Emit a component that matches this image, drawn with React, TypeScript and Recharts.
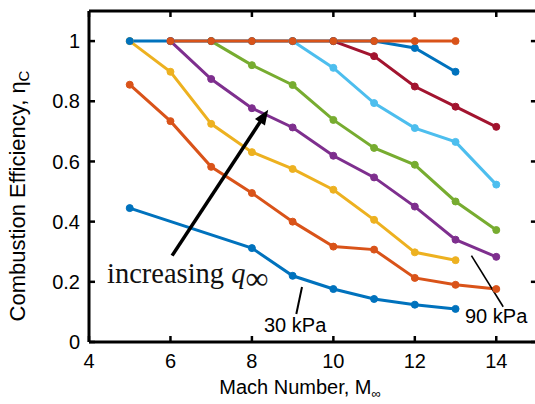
import React from 'react';
import { LineChart, Line, XAxis, YAxis, ReferenceLine } from 'recharts';

// MATLAB default colour order
const colors = ['#0072BD', '#D95319', '#EDB120', '#7E2F8E', '#77AC30', '#4DBEEE', '#A2142F', '#0072BD', '#D95319'];

const xTicks = [4, 6, 8, 10, 12, 14];
const yTicks = [0, 0.2, 0.4, 0.6, 0.8, 1];

// Mach numbers and combustion efficiency for each dynamic pressure
const mach1 = [5, 8, 9, 10, 11, 12, 13];
const eta1 = [0.445, 0.312, 0.22, 0.176, 0.143, 0.124, 0.11];
const mach2 = [5, 6, 7, 8, 9, 10, 11, 12, 13, 14];
const eta2 = [0.855, 0.734, 0.582, 0.495, 0.4, 0.317, 0.307, 0.213, 0.19, 0.176];
const mach3 = [5, 6, 7, 8, 9, 10, 11, 12, 13];
const eta3 = [1.0, 0.898, 0.725, 0.631, 0.575, 0.506, 0.406, 0.298, 0.272];
const mach4 = [6, 7, 8, 9, 10, 11, 12, 13, 14];
const eta4 = [1.0, 0.874, 0.777, 0.713, 0.619, 0.547, 0.45, 0.34, 0.283];
const mach5 = [7, 8, 9, 10, 11, 12, 13, 14];
const eta5 = [1.0, 0.92, 0.854, 0.738, 0.645, 0.589, 0.467, 0.372];
const mach6 = [9, 10, 11, 12, 13, 14];
const eta6 = [1.0, 0.911, 0.794, 0.711, 0.665, 0.523];
const mach7 = [10, 11, 12, 13, 14];
const eta7 = [1.0, 0.95, 0.849, 0.782, 0.715];
const mach8 = [5, 6, 7, 8, 9, 10, 11, 12, 13];
const eta8 = [1, 1, 1, 1, 1, 1, 1, 0.977, 0.898];
const mach9 = [6, 7, 8, 9, 10, 11, 12, 13];
const eta9 = [1, 1, 1, 1, 1, 1, 1, 1];

const seriesList = [
  [mach1, eta1], [mach2, eta2], [mach3, eta3], [mach4, eta4], [mach5, eta5],
  [mach6, eta6], [mach7, eta7], [mach8, eta8], [mach9, eta9],
].map(([m, e]) => m.map((x, i) => ({ mach: x, eta: e[i] })));

const sans = 'Liberation Sans, Arial, Helvetica, sans-serif';
const serif = 'Liberation Serif, Times New Roman, serif';

const ArrowShape = (props: any) => {
  const { x1, y1, x2, y2 } = props;
  const dx = x2 - x1;
  const dy = y2 - y1;
  const len = Math.sqrt(dx * dx + dy * dy);
  const ux = dx / len;
  const uy = dy / len;
  const hl = 15;
  const hw = 6;
  const bx = x2 - ux * hl;
  const by = y2 - uy * hl;
  return (
    <g>
      <line x1={x1} y1={y1} x2={bx + ux * 2} y2={by + uy * 2} stroke="#000" strokeWidth={3.5} />
      <polygon
        points={`${x2},${y2} ${bx - uy * hw},${by + ux * hw} ${bx + uy * hw},${by - ux * hw}`}
        fill="#000"
      />
    </g>
  );
};

export default function App() {
  return (
    <div style={{ position: 'absolute', left: 0, top: 0, width: 535, height: 404, overflow: 'hidden', background: '#fff' }}>
      <LineChart width={538} height={404} margin={{ top: 11, right: 1, left: 0, bottom: 0 }}>
        <XAxis
          dataKey="mach"
          type="number"
          domain={[4, 15]}
          ticks={xTicks}
          allowDataOverflow
          height={62}
          axisLine={{ stroke: '#000', strokeWidth: 3 }}
          tickLine={{ stroke: '#000', strokeWidth: 2.5 }}
          tickSize={-6}
          tickMargin={18}
          tick={{ fill: '#000', fontSize: 20, fontFamily: sans }}
        />
        <YAxis
          type="number"
          domain={[0, 1.1]}
          ticks={yTicks}
          allowDataOverflow
          width={89}
          axisLine={{ stroke: '#000', strokeWidth: 3 }}
          tickLine={{ stroke: '#000', strokeWidth: 2.5 }}
          tickSize={-6}
          tickMargin={15}
          tick={{ fill: '#000', fontSize: 20, fontFamily: sans }}
        />
        {/* box: top and right edges with inward ticks */}
        <ReferenceLine y={1.1} stroke="#000" strokeWidth={3} ifOverflow="visible" />
        <ReferenceLine x={15} stroke="#000" strokeWidth={3} ifOverflow="visible" />
        {xTicks.map((t) => (
          <ReferenceLine key={'tx' + t} segment={[{ x: t, y: 1.1 }, { x: t, y: 1.08 }]} stroke="#000" strokeWidth={2.5} ifOverflow="visible" />
        ))}
        {yTicks.map((t) => (
          <ReferenceLine key={'ty' + t} segment={[{ x: 15, y: t }, { x: 14.85, y: t }]} stroke="#000" strokeWidth={2.5} ifOverflow="visible" />
        ))}
        {seriesList.map((d, i) => (
          <Line
            key={i}
            data={d}
            dataKey="eta"
            type="linear"
            stroke={colors[i]}
            strokeWidth={3}
            dot={{ r: 3.5, fill: colors[i], stroke: colors[i], strokeWidth: 1 }}
            activeDot={false}
            isAnimationActive={false}
          />
        ))}
        <ReferenceLine
          segment={[{ x: 6.04, y: 0.287 }, { x: 8.4, y: 0.772 }]}
          shape={ArrowShape}
        />
        <ReferenceLine segment={[{ x: 9.23, y: 0.183 }, { x: 9.09, y: 0.093 }]} stroke="#000" strokeWidth={2} />
        <ReferenceLine segment={[{ x: 13.39, y: 0.287 }, { x: 14.17, y: 0.117 }]} stroke="#000" strokeWidth={1.6} />
        <text x={107} y={283} fontFamily={serif} fontSize={28.5} fill="#111">
          increasing <tspan fontStyle="italic">q</tspan>
          <tspan fontSize={32} dy={6}>∞</tspan>
        </text>
        <text x={264} y={332} fontFamily={sans} fontSize={20} fill="#000">30 kPa</text>
        <text x={465} y={323} fontFamily={sans} fontSize={20} fill="#000">90 kPa</text>
        <text x={300} y={394} fontFamily={sans} fontSize={20} fill="#000" textAnchor="middle">
          Mach Number, M<tspan fontSize={13} dy={4}>∞</tspan>
        </text>
        <text x={25} y={196} fontFamily={sans} fontSize={22} fill="#000" textAnchor="middle" transform="rotate(-90 25 196)">
          Combustion Efficiency, η<tspan fontSize={15} dy={4}>C</tspan>
        </text>
      </LineChart>
    </div>
  );
}
